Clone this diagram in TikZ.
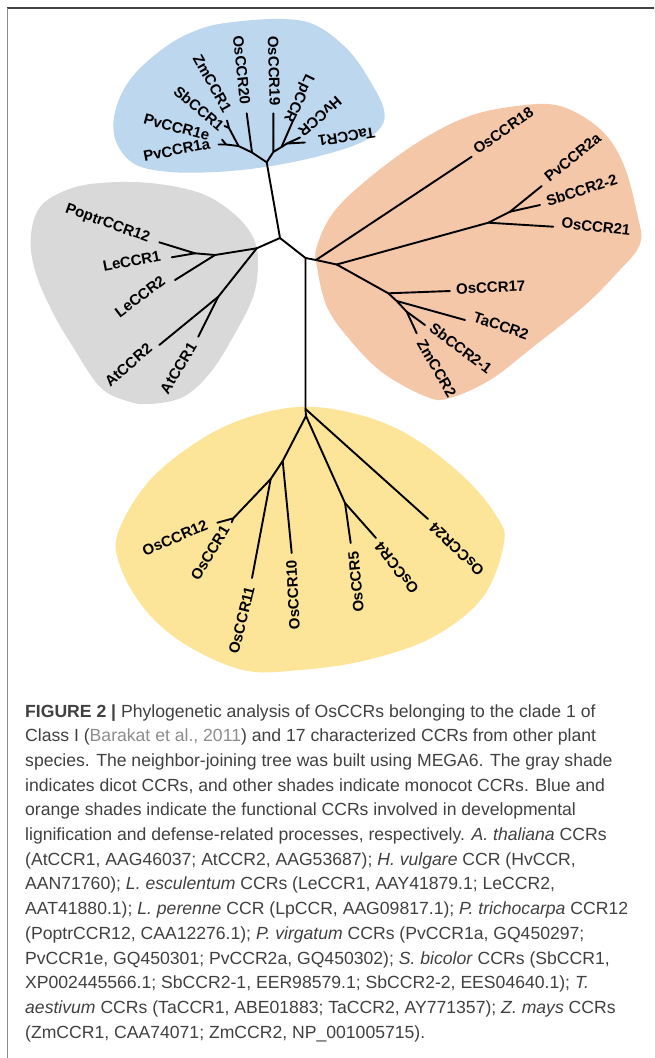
\documentclass[tikz,border=0pt]{standalone}
\usepackage{fontspec}
\setmainfont{Liberation Sans}
\newfontfamily\lblfam{Liberation Sans}
\definecolor{bluesh}{HTML}{BDD7EE}
\definecolor{graysh}{HTML}{D9D9D9}
\definecolor{orangesh}{HTML}{F4C7A9}
\definecolor{yellowsh}{HTML}{FCE498}
\definecolor{captext}{HTML}{404040}
\definecolor{linkgray}{HTML}{8C8C8C}
\definecolor{frametop}{HTML}{444444}
\definecolor{frameleft}{HTML}{8A8A8A}
\tikzset{
  br/.style={line width=1.9pt, line cap=round, line join=round, black},
  lbl/.style={font={\lblfam\bfseries\fontsize{15}{15}\selectfont}, inner sep=0pt},
  capline/.style={anchor=base west, inner sep=0pt, text=captext, font={\fontsize{17.6}{24.7}\selectfont}}
}
\begin{document}
\begin{tikzpicture}[x=1pt,y=-1pt]
\useasboundingbox (0,0) rectangle (654,1058);
% frame
\draw[frametop, line width=1.4pt] (7,8) -- (654,8);
\draw[frameleft, line width=1.4pt] (7.6,8) -- (7.6,1058);

% shaded clades
\fill[bluesh] plot[smooth cycle, tension=0.6] coordinates {
 (115.5,140) (115.5,110) (132,77) (166.7,46) (200,29) (233,22) (283,19) (316.7,25.7)
 (350,52) (373,86) (384,110) (381,127) (360,143) (316.7,156.7) (266.7,166.7)
 (216,172) (166.7,171.7) (133.3,163.3)};
\fill[graysh] plot[smooth cycle, tension=0.6] coordinates {
 (35.7,273) (30.7,238) (40,207) (66.7,190) (100,183) (150,183) (200,193) (233,213)
 (253,237) (258,263) (253,297) (233,337) (210,373) (183,397) (150,404) (127,401)
 (100,387) (73,347) (53,313)};
\fill[orangesh] plot[smooth cycle, tension=0.6] coordinates {
 (316.7,247) (333,213) (366.7,180) (416.7,143) (466.7,117) (516.7,106) (560,106)
 (600,129) (623,163) (637,213) (640,244) (617,273) (583,307) (533,347) (490,380)
 (450,398) (427,397) (383,373) (350,340) (327,307) (317,267)};
\fill[yellowsh] plot[smooth cycle, tension=0.6] coordinates {
 (306.7,406.7) (250,416.7) (200,440) (150,480) (119,530) (119,563) (143,607)
 (183,643) (243,670) (300,670) (367,660) (433,637) (483,597) (504,543) (497,517)
 (467,480) (417,440) (367,417)};

% ---- internal nodes ----
\coordinate (Bl0) at (266.7,162.3);
\coordinate (A) at (280,238);
\coordinate (B) at (305.5,258);
\coordinate (O0) at (316,260);
\coordinate (Y0) at (305.5,409);
\coordinate (Y0b) at (306,416);
\coordinate (G0) at (256.7,248.3);
% blue
\coordinate (BlL) at (252,152.5);
\coordinate (BlLL) at (238.5,146);
\coordinate (BlZS) at (229,128);
\coordinate (BlPv) at (226,144.5);
\coordinate (BlR) at (273.3,152);
\coordinate (BlRR) at (281.5,147);
\coordinate (BlHT) at (287,143.5);
\coordinate (tOsCCR20) at (246.7,113.3);
\coordinate (tOsCCR19) at (273.3,113.3);
\coordinate (tLpCCR) at (293.3,120);
\coordinate (tHvCCR) at (300,137.5);
\coordinate (tTaCCR1) at (305,142.5);
\coordinate (tZmCCR1) at (227,120.5);
\coordinate (tSbCCR1) at (224.5,126);
\coordinate (tPvCCR1e) at (222,139.5);
\coordinate (tPvCCR1a) at (218.5,144.5);
% gray
\coordinate (G1) at (215,255);
\coordinate (G3) at (195,253.3);
\coordinate (G2) at (218.3,296.7);
\coordinate (tPoptrCCR12) at (159.3,242.3);
\coordinate (tLeCCR1) at (171.7,257.3);
\coordinate (tLeCCR2) at (175,280);
\coordinate (tAtCCR2) at (159.3,345);
\coordinate (tAtCCR1) at (198.3,336.7);
% orange
\coordinate (O1) at (336.7,264.5);
\coordinate (O2) at (488.3,222.7);
\coordinate (O4) at (510,211.7);
\coordinate (O3) at (388.3,293.3);
\coordinate (O5) at (396.7,301);
\coordinate (O6) at (406.7,311.7);
\coordinate (tOsCCR18) at (471.7,156.7);
\coordinate (tOsCCR21) at (553.3,226.7);
\coordinate (tPvCCR2a) at (541.7,186);
\coordinate (tSbCCR22) at (540,205);
\coordinate (tOsCCR17) at (450,291);
\coordinate (tTaCCR2) at (465,320);
\coordinate (tSbCCR21) at (425,325);
\coordinate (tZmCCR2) at (416.7,333.3);
% yellow
\coordinate (Y2) at (282.7,461);
\coordinate (Y3) at (345,503);
\coordinate (Y4) at (270.7,479);
\coordinate (Y5) at (233.3,518.3);
\coordinate (tOsCCR24) at (428,519);
\coordinate (tOsCCR10) at (291.7,553);
\coordinate (tOsCCR11) at (252,578);
\coordinate (tOsCCR12) at (217.3,522.7);
\coordinate (tOsCCR1) at (231.7,522.3);
\coordinate (tOsCCR5) at (350.7,543);
\coordinate (tOsCCR4) at (376,538);

% ---- branches ----
\draw[br] (Bl0) -- (A) -- (B) -- (Y0) -- (Y0b);
\draw[br] (A) -- (G0);
\draw[br] (B) -- (O0);
% blue
\draw[br] (Bl0) -- (BlL) -- (BlLL) -- (BlZS) -- (tZmCCR1);
\draw[br] (BlZS) -- (tSbCCR1);
\draw[br] (BlLL) -- (BlPv) -- (tPvCCR1a);
\draw[br] (BlPv) -- (tPvCCR1e);
\draw[br] (BlL) -- (tOsCCR20);
\draw[br] (Bl0) -- (BlR) -- (tOsCCR19);
\draw[br] (BlR) -- (BlRR) -- (tLpCCR);
\draw[br] (BlRR) -- (BlHT) -- (tHvCCR);
\draw[br] (BlHT) -- (tTaCCR1);
% gray
\draw[br] (G0) -- (G1) -- (G3) -- (tPoptrCCR12);
\draw[br] (G3) -- (tLeCCR1);
\draw[br] (G1) -- (tLeCCR2);
\draw[br] (G0) -- (G2) -- (tAtCCR2);
\draw[br] (G2) -- (tAtCCR1);
% orange
\draw[br] (O0) -- (tOsCCR18);
\draw[br] (O0) -- (O1) -- (O2) -- (tOsCCR21);
\draw[br] (O2) -- (O4) -- (tPvCCR2a);
\draw[br] (O4) -- (tSbCCR22);
\draw[br] (O1) -- (O3) -- (tOsCCR17);
\draw[br] (O3) -- (O5) -- (tTaCCR2);
\draw[br] (O5) -- (O6) -- (tSbCCR21);
\draw[br] (O6) -- (tZmCCR2);
% yellow
\draw[br] (Y0) -- (tOsCCR24);
\draw[br] (Y0b) -- (Y2) -- (tOsCCR10);
\draw[br] (Y2) -- (Y4) -- (tOsCCR11);
\draw[br] (Y4) -- (Y5) -- (tOsCCR12);
\draw[br] (Y5) -- (tOsCCR1);
\draw[br] (Y0b) -- (Y3) -- (tOsCCR5);
\draw[br] (Y3) -- (tOsCCR4);

% ---- labels ----
% blue
\node[lbl, rotate=11] (lPvCCR1a) at (176.7,150) {PvCCR1a};
\node[lbl, rotate=-15] (lPvCCR1e) at (176.7,127.3) {PvCCR1e};
\node[lbl, rotate=-40] (lSbCCR1) at (199,108.3) {SbCCR1};
\node[lbl, rotate=-61] (lZmCCR1) at (212.3,83.3) {ZmCCR1};
\node[lbl, rotate=-84] (lOsCCR20) at (241.7,70) {OsCCR20};
\node[lbl, rotate=-88.5] (lOsCCR19) at (274,70.7) {OsCCR19};
\node[lbl, rotate=-116] (lLpCCR) at (298.3,98.3) {LpCCR};
\node[lbl, rotate=-139] (lHvCCR) at (320,116.7) {HvCCR};
\node[lbl, rotate=-171] (lTaCCR1) at (346.7,136.7) {TaCCR1};
% gray
\node[lbl, rotate=-20] (lPoptrCCR12) at (107.5,224) {PoptrCCR12};
\node[lbl, rotate=11] (lLeCCR1) at (131.7,261) {LeCCR1};
\node[lbl, rotate=37] (lLeCCR2) at (140,296.7) {LeCCR2};
\node[lbl, rotate=41] (lAtCCR2) at (128.3,365) {AtCCR2};
\node[lbl, rotate=59] (lAtCCR1) at (178.3,368.3) {AtCCR1};
% orange
\node[lbl, rotate=35] (lOsCCR18) at (503.3,130.7) {OsCCR18};
\node[lbl, rotate=39] (lPvCCR2a) at (572.7,157.3) {PvCCR2a};
\node[lbl, rotate=17.6] (lSbCCR22) at (581.7,190) {SbCCR2-2};
\node[lbl, rotate=-6.6] (lOsCCR21) at (596,226.7) {OsCCR21};
\node[lbl, rotate=2.7] (lOsCCR17) at (490.7,287.3) {OsCCR17};
\node[lbl, rotate=-19] (lTaCCR2) at (501,326) {TaCCR2};
\node[lbl, rotate=-37] (lSbCCR21) at (461,348.3) {SbCCR2-1};
\node[lbl, rotate=-60] (lZmCCR2) at (436.7,368.3) {ZmCCR2};
% yellow
\node[lbl, rotate=23] (lOsCCR12) at (175,538) {OsCCR12};
\node[lbl, rotate=59] (lOsCCR1) at (210,553) {OsCCR1};
\node[lbl, rotate=76] (lOsCCR11) at (241.7,620) {OsCCR11};
\node[lbl, rotate=93] (lOsCCR10) at (293,595) {OsCCR10};
\node[lbl, rotate=95] (lOsCCR5) at (356,582) {OsCCR5};
\node[lbl, rotate=128] (lOsCCR4) at (396.7,568) {OsCCR4};
\node[lbl, rotate=136] (lOsCCR24) at (456.7,549) {OsCCR24};

% ---- caption ----
\node[capline] (c1) at (25,717) {\textbf{FIGURE 2 |} Phylogenetic analysis of OsCCRs belonging to the clade 1 of};
\node[capline] (c2) at (25,741.7) {Class I ({\color{linkgray}Barakat et al., 2011}) and 17 characterized CCRs from other plant};
\node[capline] (c3) at (25,766.4) {species. The neighbor-joining tree was built using MEGA6. The gray shade};
\node[capline] (c4) at (25,791.1) {indicates dicot CCRs, and other shades indicate monocot CCRs. Blue and};
\node[capline] (c5) at (25,815.8) {orange shades indicate the functional CCRs involved in developmental};
\node[capline] (c6) at (25,840.5) {lignification and defense-related processes, respectively. \textit{A. thaliana} CCRs};
\node[capline] (c7) at (25,865.2) {(AtCCR1, AAG46037; AtCCR2, AAG53687); \textit{H. vulgare} CCR (HvCCR,};
\node[capline] (c8) at (25,889.9) {AAN71760); \textit{L. esculentum} CCRs (LeCCR1, AAY41879.1; LeCCR2,};
\node[capline] (c9) at (25,914.6) {AAT41880.1); \textit{L. perenne} CCR (LpCCR, AAG09817.1); \textit{P. trichocarpa} CCR12};
\node[capline] (c10) at (25,939.3) {(PoptrCCR12, CAA12276.1); \textit{P. virgatum} CCRs (PvCCR1a, GQ450297;};
\node[capline] (c11) at (25,964) {PvCCR1e, GQ450301; PvCCR2a, GQ450302); \textit{S. bicolor} CCRs (SbCCR1,};
\node[capline] (c12) at (25,988.7) {XP002445566.1; SbCCR2-1, EER98579.1; SbCCR2-2, EES04640.1); \textit{T.}};
\node[capline] (c13) at (25,1013.4) {\textit{aestivum} CCRs (TaCCR1, ABE01883; TaCCR2, AY771357); \textit{Z. mays} CCRs};
\node[capline] (c14) at (25,1038.1) {(ZmCCR1, CAA74071; ZmCCR2, NP\_001005715).};
\end{tikzpicture}
\end{document}
